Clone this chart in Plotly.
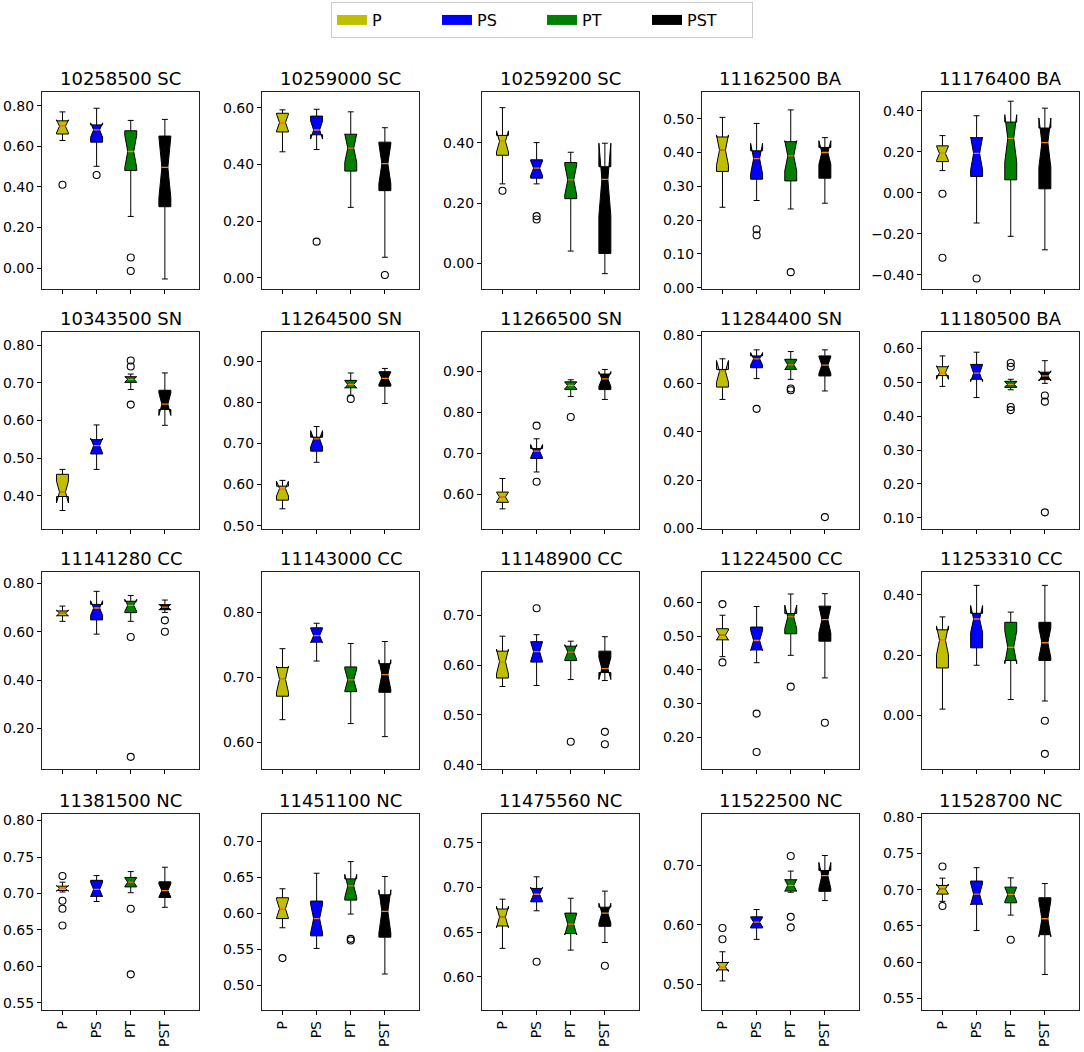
import plotly.graph_objects as go

CATEGORIES = ["P", "PS", "PT", "PST"]
COLORS = ["#bfbf00", "#0000ff", "#008000", "#000000"]

TITLES = ["10258500 SC", "10259000 SC", "10259200 SC", "11162500 BA", "11176400 BA",
          "10343500 SN", "11264500 SN", "11266500 SN", "11284400 SN", "11180500 BA",
          "11141280 CC", "11143000 CC", "11148900 CC", "11224500 CC", "11253310 CC",
          "11381500 NC", "11451100 NC", "11475560 NC", "11522500 NC", "11528700 NC"]

LOWER = [[0.628, 0.501, 0.254, -0.054], [0.445, 0.453, 0.249, 0.073], [0.264, 0.264, 0.041, -0.034],
         [0.238, 0.258, 0.233, 0.250], [0.108, -0.148, -0.213, -0.279],
         [0.361, 0.470, 0.682, 0.587], [0.541, 0.654, 0.817, 0.797], [0.565, 0.655, 0.839, 0.832],
         [0.534, 0.620, 0.617, 0.569], [0.488, 0.455, 0.478, 0.497],
         [0.643, 0.590, 0.643, 0.680], [0.635, 0.725, 0.629, 0.609], [0.557, 0.559, 0.571, 0.569],
         [0.439, 0.421, 0.443, 0.376], [0.020, 0.166, 0.052, 0.047],
         [0.702, 0.689, 0.701, 0.681], [0.580, 0.5514, 0.599, 0.516], [0.632, 0.674, 0.630, 0.6385],
         [0.506, 0.5758, 0.655, 0.641], [0.684, 0.6437, 0.665, 0.583]]

Q1 = [[0.660, 0.620, 0.480, 0.302], [0.515, 0.505, 0.377, 0.308], [0.359, 0.283, 0.215, 0.033],
      [0.344, 0.321, 0.316, 0.324], [0.152, 0.079, 0.063, 0.019],
      [0.398, 0.511, 0.701, 0.629], [0.562, 0.681, 0.835, 0.839], [0.581, 0.688, 0.856, 0.856],
      [0.585, 0.665, 0.658, 0.631], [0.520, 0.509, 0.485, 0.508],
      [0.666, 0.649, 0.679, 0.691], [0.671, 0.754, 0.678, 0.677], [0.574, 0.606, 0.609, 0.585],
      [0.489, 0.459, 0.507, 0.485], [0.157, 0.224, 0.182, 0.182],
      [0.704, 0.696, 0.709, 0.6945], [0.5927, 0.5688, 0.6183, 0.567], [0.657, 0.684, 0.6485, 0.6566],
      [0.5245, 0.595, 0.657, 0.6565], [0.694, 0.680, 0.682, 0.638]]

MEDIAN = [[0.698, 0.680, 0.574, 0.496], [0.548, 0.522, 0.458, 0.403], [0.405, 0.316, 0.277, 0.279],
          [0.407, 0.382, 0.390, 0.400], [0.192, 0.192, 0.265, 0.245],
          [0.410, 0.533, 0.709, 0.643], [0.590, 0.711, 0.843, 0.858], [0.594, 0.706, 0.866, 0.882],
          [0.650, 0.702, 0.677, 0.676], [0.529, 0.527, 0.494, 0.519],
          [0.677, 0.698, 0.709, 0.702], [0.697, 0.764, 0.696, 0.704], [0.607, 0.627, 0.626, 0.593],
          [0.503, 0.487, 0.557, 0.549], [0.249, 0.320, 0.226, 0.241],
          [0.707, 0.7055, 0.7155, 0.704], [0.6064, 0.5927, 0.638, 0.6027], [0.667, 0.6925, 0.659, 0.6714],
          [0.530, 0.6047, 0.6665, 0.683], [0.701, 0.694, 0.6935, 0.660]]

Q3 = [[0.725, 0.705, 0.676, 0.650], [0.581, 0.571, 0.507, 0.479], [0.425, 0.344, 0.335, 0.321],
      [0.446, 0.405, 0.432, 0.415], [0.229, 0.269, 0.345, 0.316],
      [0.457, 0.549, 0.716, 0.680], [0.596, 0.715, 0.853, 0.874], [0.606, 0.712, 0.875, 0.894],
      [0.658, 0.714, 0.700, 0.714], [0.546, 0.553, 0.503, 0.530],
      [0.686, 0.713, 0.726, 0.712], [0.715, 0.776, 0.716, 0.721], [0.628, 0.647, 0.638, 0.628],
      [0.522, 0.527, 0.567, 0.589], [0.284, 0.339, 0.309, 0.309],
      [0.710, 0.718, 0.722, 0.716], [0.6216, 0.617, 0.6477, 0.6257], [0.676, 0.699, 0.6714, 0.678],
      [0.537, 0.6137, 0.676, 0.6916], [0.706, 0.712, 0.7036, 0.689]]

UPPER = [[0.769, 0.787, 0.727, 0.732], [0.593, 0.595, 0.586, 0.530], [0.517, 0.401, 0.369, 0.398],
         [0.504, 0.486, 0.526, 0.444], [0.279, 0.376, 0.447, 0.413],
         [0.470, 0.588, 0.723, 0.726], [0.610, 0.741, 0.871, 0.882], [0.639, 0.736, 0.880, 0.905],
         [0.702, 0.739, 0.732, 0.739], [0.578, 0.589, 0.509, 0.564],
         [0.706, 0.767, 0.750, 0.731], [0.744, 0.783, 0.752, 0.755], [0.658, 0.661, 0.648, 0.657],
         [0.562, 0.588, 0.625, 0.626], [0.327, 0.432, 0.343, 0.432],
         [0.7155, 0.7245, 0.730, 0.736], [0.634, 0.6555, 0.6716, 0.651], [0.687, 0.712, 0.688, 0.696],
         [0.555, 0.626, 0.6905, 0.7167], [0.716, 0.7305, 0.7164, 0.7086]]

NOTCH = [[0.032, 0.035, 0.080, 0.150], [0.030, 0.032, 0.050, 0.070], [0.035, 0.025, 0.050, 0.120],
         [0.045, 0.045, 0.045, 0.035], [0.035, 0.080, 0.116, 0.120],
         [0.029, 0.020, 0.007, 0.030], [0.018, 0.020, 0.009, 0.015], [0.012, 0.016, 0.008, 0.018],
         [0.045, 0.026, 0.020, 0.035], [0.020, 0.025, 0.007, 0.015],
         [0.012, 0.030, 0.025, 0.012], [0.020, 0.011, 0.017, 0.023], [0.025, 0.020, 0.015, 0.022],
         [0.015, 0.030, 0.035, 0.040], [0.048, 0.045, 0.055, 0.050],
         [0.004, 0.010, 0.006, 0.009], [0.013, 0.020, 0.016, 0.030], [0.012, 0.008, 0.012, 0.011],
         [0.008, 0.008, 0.010, 0.022], [0.007, 0.015, 0.010, 0.025]]

OUTLIERS = [[[0.410], [0.4585], [0.052, -0.015], []],
            [[], [0.128], [], [0.0105]],
            [[0.241], [0.157, 0.146], [], []],
            [[], [0.173, 0.155], [0.046], []],
            [[-0.005, -0.318], [-0.419], [], []],
            [[], [], [0.759, 0.743, 0.642], []],
            [[], [], [0.808], []],
            [[], [0.768, 0.631], [0.789], []],
            [[], [0.495], [0.579, 0.572], [0.047]],
            [[], [], [0.557, 0.546, 0.427, 0.418], [0.461, 0.443, 0.116]],
            [[], [], [0.578, 0.083], [0.647, 0.600]],
            [[], [], [], []],
            [[], [0.714], [0.446], [0.466, 0.441]],
            [[0.595, 0.422], [0.270, 0.156], [0.350], [0.243]],
            [[], [], [], [-0.019, -0.129]],
            [[0.724, 0.690, 0.679, 0.656], [], [0.679, 0.589], []],
            [[0.538], [], [0.5647, 0.5624], []],
            [[], [0.617], [], [0.6126]],
            [[0.595, 0.576], [], [0.716, 0.6137, 0.596], []],
            [[0.732, 0.6775], [], [0.631], []]]

Y_RANGES = [[-0.102, 0.867], [-0.038, 0.656], [-0.084, 0.569], [-0.003, 0.579], [-0.469, 0.492],
            [0.312, 0.834], [0.492, 0.970], [0.516, 0.996], [-0.002, 0.812], [0.067, 0.648],
            [0.032, 0.845], [0.559, 0.861], [0.391, 0.786], [0.105, 0.689], [-0.180, 0.475],
            [0.5395, 0.8095], [0.4656, 0.738], [0.5626, 0.7826], [0.4565, 0.787], [0.5335, 0.805]]

Y_DTICK = [0.2, 0.2, 0.2, 0.1, 0.2,
           0.1, 0.1, 0.1, 0.2, 0.1,
           0.2, 0.1, 0.1, 0.1, 0.2,
           0.05, 0.05, 0.05, 0.1, 0.05]

# ---- layout geometry (pixels) ----
W, H = 1084, 1052
COL_LEFT = [42, 262, 482, 702, 922]
ROW_TOP = [88, 331, 574, 818]
AX_W, AX_H = 157, 199
BOX_W = 0.35
FONT = "DejaVu Sans"

fig = go.Figure()
layout = {}
annotations = []

# legend entries (wide colour patches)
for j, cat in enumerate(CATEGORIES):
    fig.add_trace(go.Scatter(x=[None], y=[None], mode="lines", name=cat,
                             line=dict(color=COLORS[j], width=13), showlegend=True,
                             hoverinfo="skip", xaxis="x", yaxis="y"))

for i in range(20):
    r, c = divmod(i, 5)
    sfx = "" if i == 0 else str(i + 1)
    xa, ya = "x" + sfx, "y" + sfx
    for j, cat in enumerate(CATEGORIES):
        fig.add_trace(go.Box(
            x=[j], q1=[Q1[i][j]], median=[MEDIAN[i][j]], q3=[Q3[i][j]],
            lowerfence=[LOWER[i][j]], upperfence=[UPPER[i][j]],
            notchspan=[NOTCH[i][j]], notched=True, notchwidth=0.25,
            orientation="v", width=BOX_W, whiskerwidth=0.5,
            fillcolor=COLORS[j], line=dict(color="black", width=1),
            boxpoints=False, name=cat, showlegend=False,
            hoverinfo="skip", xaxis=xa, yaxis=ya))
        if OUTLIERS[i][j]:
            fig.add_trace(go.Scatter(
                x=[j] * len(OUTLIERS[i][j]), y=OUTLIERS[i][j], mode="markers",
                marker=dict(symbol="circle-open", size=7, color="black", line=dict(width=1.1)),
                showlegend=False, hoverinfo="skip", xaxis=xa, yaxis=ya))
    # orange median lines
    mx, my = [], []
    for j in range(4):
        mx += [j - BOX_W * 0.25, j + BOX_W * 0.25, None]
        my += [MEDIAN[i][j], MEDIAN[i][j], None]
    fig.add_trace(go.Scatter(x=mx, y=my, mode="lines", line=dict(color="#ff7f0e", width=1.3),
                             showlegend=False, hoverinfo="skip", xaxis=xa, yaxis=ya))

    x0 = COL_LEFT[c] / W
    x1 = (COL_LEFT[c] + AX_W) / W
    y1 = 1 - ROW_TOP[r] / H
    y0 = 1 - (ROW_TOP[r] + AX_H) / H
    bottom = (r == 3)
    layout["xaxis" + sfx] = dict(
        domain=[x0, x1], anchor=ya, range=[-0.6, 4.0],
        tickmode="array", tickvals=[0, 1, 2, 3],
        ticktext=CATEGORIES if bottom else ["", "", "", ""],
        tickangle=-90, ticks="outside", ticklen=4, tickcolor="black",
        showline=True, mirror=True, linecolor="#222222", linewidth=1,
        showgrid=False, zeroline=False, fixedrange=True,
        tickfont=dict(family=FONT, size=14, color="black"))
    layout["yaxis" + sfx] = dict(
        domain=[y0, y1], anchor=xa, range=Y_RANGES[i],
        tickmode="linear", tick0=0, dtick=Y_DTICK[i], tickformat=".2f",
        ticks="outside", ticklen=4, tickcolor="black",
        showline=True, mirror=True, linecolor="#222222", linewidth=1,
        showgrid=False, zeroline=False, fixedrange=True,
        tickfont=dict(family=FONT, size=14, color="black"))
    annotations.append(dict(
        text=TITLES[i], x=(x0 + x1) / 2, y=y1, xref="paper", yref="paper",
        xanchor="center", yanchor="bottom", yshift=1, showarrow=False,
        font=dict(family=FONT, size=18, color="black")))

fig.update_layout(
    width=W, height=H, margin=dict(l=0, r=0, t=0, b=0),
    paper_bgcolor="white", plot_bgcolor="white",
    font=dict(family=FONT, size=15, color="black"),
    annotations=annotations, boxmode="overlay",
    legend=dict(orientation="h", x=0.5, xanchor="center", y=1 + 3 / H, yanchor="top",
                bordercolor="#cccccc", borderwidth=1, bgcolor="white",
                font=dict(family=FONT, size=16, color="black"),
                itemwidth=30, entrywidth=60, entrywidthmode="pixels"),
    **layout)

fig.write_html("out.html", config={"displayModeBar": False},
               post_script="document.body.style.margin='0px';")
